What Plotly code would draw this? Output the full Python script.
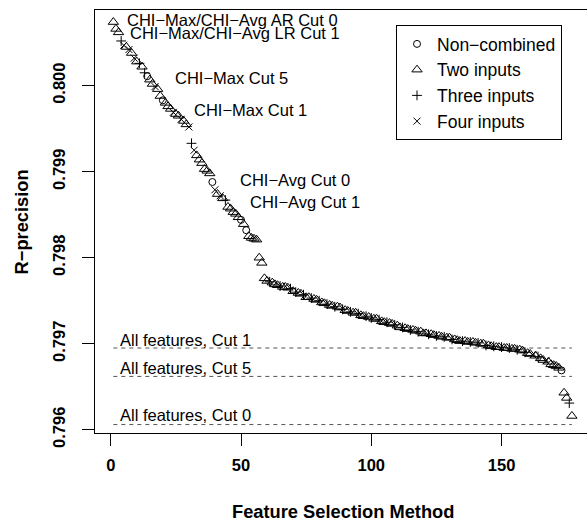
import plotly.graph_objects as go

# ---------------- data ----------------
method_index = list(range(1, 178))

rprecision = [
    0.80074, 0.80066, 0.80062, 0.80052, 0.80047, 0.80045, 0.80042, 0.80038, 0.80032, 0.80028,
    0.80026, 0.80022, 0.80015, 0.80011, 0.80007, 0.80002, 0.79999, 0.79996, 0.79988, 0.79983,
    0.79980, 0.79976, 0.79973, 0.79969, 0.79967, 0.79965, 0.79961, 0.79959, 0.79955, 0.79952,
    0.79933, 0.79925, 0.79919, 0.79914, 0.79910, 0.79903, 0.79901, 0.79898, 0.79888, 0.79879,
    0.79874, 0.79872, 0.79869, 0.79867, 0.79859, 0.79857, 0.79853, 0.79851, 0.79847, 0.79844,
    0.79839, 0.79832, 0.79825, 0.79823, 0.79822, 0.79821, 0.79800, 0.79794, 0.79776, 0.79773,
    0.79772, 0.79771, 0.79769, 0.79768, 0.79767, 0.79766, 0.79766, 0.79765, 0.79764, 0.79761,
    0.79760, 0.79759, 0.79758, 0.79757, 0.79754, 0.79754, 0.79753, 0.79752, 0.79751, 0.79750,
    0.79748, 0.79747, 0.79746, 0.79745, 0.79744, 0.79743, 0.79743, 0.79742, 0.79740, 0.79739,
    0.79738, 0.79737, 0.79736, 0.79736, 0.79735, 0.79733, 0.79732, 0.79732, 0.79731, 0.79730,
    0.79729, 0.79729, 0.79728, 0.79726, 0.79725, 0.79725, 0.79724, 0.79723, 0.79722, 0.79721,
    0.79719, 0.79719, 0.79718, 0.79717, 0.79716, 0.79716, 0.79715, 0.79714, 0.79714, 0.79712,
    0.79712, 0.79711, 0.79711, 0.79710, 0.79709, 0.79709, 0.79708, 0.79708, 0.79707, 0.79707,
    0.79705, 0.79705, 0.79704, 0.79703, 0.79703, 0.79703, 0.79702, 0.79702, 0.79702, 0.79701,
    0.79701, 0.79700, 0.79700, 0.79698, 0.79698, 0.79697, 0.79697, 0.79696, 0.79696, 0.79696,
    0.79695, 0.79695, 0.79695, 0.79694, 0.79694, 0.79693, 0.79693, 0.79692, 0.79690, 0.79689,
    0.79688, 0.79687, 0.79686, 0.79685, 0.79683, 0.79681, 0.79680, 0.79679, 0.79676, 0.79675,
    0.79674, 0.79672, 0.79669, 0.79643, 0.79637, 0.79631, 0.79616,
]

# N = non-combined, T = two inputs, P = three inputs, X = four inputs
input_type = (
    "TTTPXTXTXT" "PTPNTTXTTN" "TTTXTTXTTX" "PXTTTTTTNX" "TXTPTTTTTN"
    "TNTTTTTTTT" "PTTTPTTTPT" "PTTPTTPTTP" "TTPTTPTTPT" "TPTTPTTPTP"
    "TTPTTPTTPT" "TPTTPTTPTT" "TPTTPTTPTT" "PTTTPTTPTT" "PTTPTTPTTP"
    "TTPTTPTTPT" "TXTPTTXTTT" "TTNTTPT"
)

baseline_labels = ["All features, Cut 1", "All features, Cut 5", "All features, Cut 0"]
baseline_values = [0.79695, 0.79662, 0.79606]

point_labels = [
    "CHI−Max/CHI−Avg AR Cut 0",
    "CHI−Max/CHI−Avg LR Cut 1",
    "CHI−Max Cut 5",
    "CHI−Max Cut 1",
    "CHI−Avg Cut 0",
    "CHI−Avg Cut 1",
]

x_ticks = [0, 50, 100, 150]
y_ticks = [0.796, 0.797, 0.798, 0.799, 0.800]

# ---------------- styling / layout ----------------
FONT = "Liberation Sans, Arial, Helvetica, sans-serif"
groups = [
    ("N", "Non−combined", "circle-open", 7),
    ("T", "Two inputs", "triangle-up-open", 9),
    ("P", "Three inputs", "cross-thin-open", 7),
    ("X", "Four inputs", "x-thin-open", 7),
]

fig = go.Figure()

# baselines (dashed)
for v in baseline_values:
    fig.add_trace(go.Scatter(
        x=[method_index[0], method_index[-1]], y=[v, v], mode="lines",
        line=dict(color="#555555", width=1, dash="4px,4px"),
        showlegend=False, hoverinfo="skip"))

for code, name, sym, size in groups:
    xs = [method_index[i] for i in range(len(method_index)) if input_type[i] == code]
    ys = [rprecision[i] for i in range(len(method_index)) if input_type[i] == code]
    fig.add_trace(go.Scatter(
        x=xs, y=ys, mode="markers", name=name,
        marker=dict(symbol=sym, size=size, color="black",
                    line=dict(color="black", width=1))))

# label placements (data coordinates, left-anchored)
label_pos = [(5.5, 0.800764), (6.75, 0.800613), (24.0, 0.800090),
             (31.1, 0.799717), (49.0, 0.798903), (52.8, 0.798651)]
for txt, (lx, ly) in zip(point_labels, label_pos):
    fig.add_annotation(x=lx, y=ly, text=txt, showarrow=False, xanchor="left",
                       yanchor="middle", font=dict(family=FONT, size=16.5, color="black"))

base_label_y = [0.797043, 0.796717, 0.796171]
for txt, ly in zip(baseline_labels, base_label_y):
    fig.add_annotation(x=2.9, y=ly, text=txt, showarrow=False, xanchor="left",
                       yanchor="middle", font=dict(family=FONT, size=16.5, color="black"))

# axis titles
fig.add_annotation(x=0.5035, y=-0.186, xref="paper", yref="paper",
                   text="<b>Feature Selection Method</b>", showarrow=False,
                   xanchor="center", yanchor="middle",
                   font=dict(family=FONT, size=18.3, color="black"))
fig.add_annotation(x=-0.1484, y=0.5, xref="paper", yref="paper",
                   text="<b>R−precision</b>", showarrow=False, textangle=-90,
                   xanchor="center", yanchor="middle",
                   font=dict(family=FONT, size=18.3, color="black"))

fig.update_layout(
    width=587, height=521,
    margin=dict(l=95, r=0, t=10, b=88),
    plot_bgcolor="white", paper_bgcolor="white",
    font=dict(family=FONT, color="black"),
    showlegend=True,
    legend=dict(x=0.6118, y=0.9645, xanchor="left", yanchor="top",
                bgcolor="white", bordercolor="black", borderwidth=1,
                font=dict(family=FONT, size=17.5, color="black"),
                tracegroupgap=0),
    xaxis=dict(range=[-6.04, 182.8], tickmode="array", tickvals=x_ticks,
               ticks="outside", ticklen=12, tickcolor="black", tickwidth=1,
               showline=True, linecolor="black", linewidth=1, mirror=True,
               showgrid=False, zeroline=False, ticklabelstandoff=5,
               tickfont=dict(family=FONT, size=16.5, color="black", weight="bold")),
    yaxis=dict(range=[0.795962, 0.800880], tickmode="array", tickvals=y_ticks,
               tickformat=".3f", tickangle=-90,
               ticks="outside", ticklen=12, tickcolor="black", tickwidth=1,
               showline=True, linecolor="black", linewidth=1,
               showgrid=False, zeroline=False, ticklabelstandoff=10,
               tickfont=dict(family=FONT, size=16.5, color="black", weight="bold")),
)

fig.write_html(
    "out.html",
    config={"displayModeBar": False},
    post_script="document.body.style.margin='0px';document.body.style.overflow='hidden';",
)
